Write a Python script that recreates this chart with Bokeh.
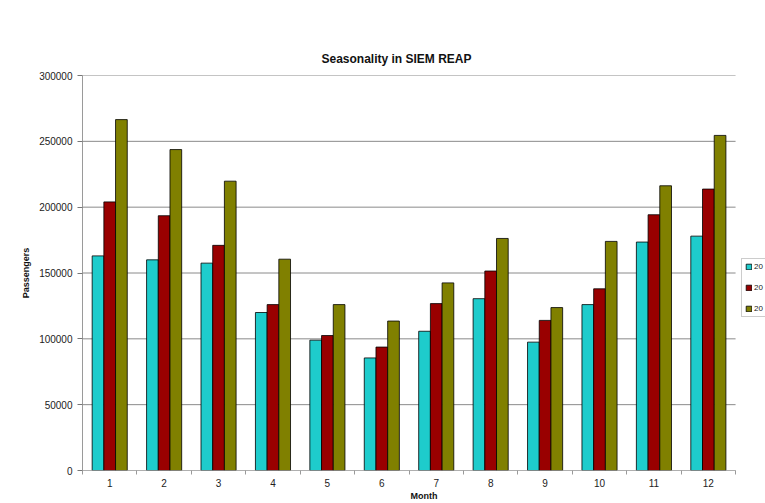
from bokeh.plotting import figure
from bokeh.models import ColumnDataSource, FixedTicker, Legend, LegendItem, Range1d, NumeralTickFormatter
from bokeh.transform import dodge
from bokeh.embed import file_html
from bokeh.resources import INLINE

# ---- data ----
months = list(range(1, 13))
month_labels = [str(m) for m in months]
series_labels = ["20", "20", "20"]
passengers_a = [163000, 160000, 157500, 120000, 99000, 85500, 105750, 130500, 97500, 126000, 173500, 178000]
passengers_b = [204000, 193500, 171000, 126000, 102500, 93750, 126750, 151500, 114000, 138000, 194250, 213750]
passengers_c = [266500, 243750, 219750, 160500, 126000, 113500, 142500, 176250, 123750, 174000, 216250, 254500]
y_ticks = [0, 50000, 100000, 150000, 200000, 250000, 300000]
y_max = 300000

title_text = "Seasonality in SIEM REAP"
x_title = "Month"
y_title = "Passengers"

colors = ["#1ECCCC", "#990000", "#808000"]
FONT = "Liberation Sans"

x_lo = months[0] - 0.5
x_hi = months[-1] + 0.5
# extra room to the right of the plot area for the legend (in category units)
x_extra = 0.55

src = ColumnDataSource(data=dict(month=months, a=passengers_a, b=passengers_b, c=passengers_c))

p = figure(width=765, height=503, output_backend="svg", toolbar_location=None,
           x_range=Range1d(x_lo, x_hi + x_extra), y_range=Range1d(0, y_max),
           min_border_left=82, min_border_right=0, min_border_top=75, min_border_bottom=28)
p.background_fill_color = "white"
p.border_fill_color = "white"
p.outline_line_color = None

# title
p.title.text = title_text
p.title.align = "left"
p.title.offset = 239
p.title.standoff = 19
p.title.text_font = FONT
p.title.text_font_size = "12px"
p.title.text_font_style = "bold"
p.title.text_color = "#111111"

# gridlines only across the plot area
p.xgrid.grid_line_color = None
p.ygrid.grid_line_color = None
p.segment(x0=[x_lo] * len(y_ticks), x1=[x_hi] * len(y_ticks), y0=y_ticks, y1=y_ticks,
          line_color="#8a8a8a", line_width=1)

bar_w = 0.215
renderers = []
for col, off, c in zip(["a", "b", "c"], [-bar_w, 0.0, bar_w], colors):
    r = p.vbar(x=dodge("month", off, range=p.x_range), top=col, width=bar_w, bottom=0,
               source=src, fill_color=c, line_color="#000000", line_width=0.8)
    renderers.append(r)

# y axis
ya = p.yaxis[0]
ya.ticker = FixedTicker(ticks=y_ticks)
ya.formatter = NumeralTickFormatter(format="0")
ya.axis_line_color = "#9a9a9a"
ya.major_tick_line_color = "#777777"
ya.major_tick_out = 5
ya.major_tick_in = 0
ya.minor_tick_line_color = None
ya.major_label_text_font = FONT
ya.major_label_text_font_size = "10px"
ya.major_label_text_color = "#222222"
ya.major_label_standoff = 5
ya.axis_label = y_title
ya.axis_label_text_font = FONT
ya.axis_label_text_font_size = "9px"
ya.axis_label_text_font_style = "bold"
ya.axis_label_text_color = "#111111"
ya.axis_label_standoff = 5

# x axis: labels at month centres, ticks at boundaries
xa = p.xaxis[0]
xa.ticker = FixedTicker(ticks=months, minor_ticks=[m - 0.5 for m in months] + [x_hi])
xa.major_label_overrides = {m: lbl for m, lbl in zip(months, month_labels)}
xa.axis_line_color = None
xa.major_tick_out = 0
xa.major_tick_in = 0
xa.minor_tick_out = 4
xa.minor_tick_in = 0
xa.minor_tick_line_color = "#9a9a9a"
xa.major_label_text_font = FONT
xa.major_label_text_font_size = "10px"
xa.major_label_text_color = "#222222"
xa.major_label_standoff = 4
xa.axis_label = x_title
xa.axis_label_text_font = FONT
xa.axis_label_text_font_size = "9px"
xa.axis_label_text_font_style = "bold"
xa.axis_label_text_color = "#111111"
xa.axis_label_standoff = 1
# x axis line only under the plot area
p.segment(x0=[x_lo], x1=[x_hi], y0=[0], y1=[0], line_color="#9a9a9a", line_width=1)

legend = Legend(items=[LegendItem(label=l, renderers=[r]) for l, r in zip(series_labels, renderers)],
                location=(659, 153), orientation="vertical", margin=0, padding=3, spacing=12,
                glyph_width=7, glyph_height=7, label_height=8, label_standoff=2,
                label_text_font=FONT, label_text_font_size="8px", label_text_color="#222222",
                border_line_color="#9a9a9a", background_fill_color="white", background_fill_alpha=1.0)
p.add_layout(legend)

open("out.html", "w").write(file_html(p, INLINE))
